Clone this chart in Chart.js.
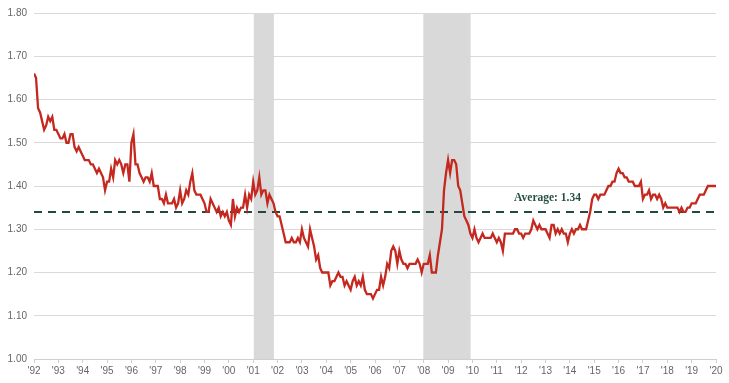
<!DOCTYPE html>
<html>
<head>
<meta charset="utf-8">
<script src="https://cdn.jsdelivr.net/npm/chart.js@4.4.1/dist/chart.umd.min.js"></script>
<style>
  html, body { margin: 0; padding: 0; background: #ffffff; }
  #wrap { width: 729px; height: 383px; position: relative; }
</style>
</head>
<body>
<div id="wrap"><canvas id="c" width="729" height="383"></canvas></div>
<script>
// Monthly values, Jan 1992 .. Jan 2020
const y1992 = [1.66,1.65,1.58,1.57,1.55,1.53,1.54,1.56,1.55,1.56,1.53,1.53];
const y1993 = [1.52,1.51,1.51,1.52,1.50,1.50,1.52,1.52,1.49,1.48,1.49,1.48];
const y1994 = [1.47,1.46,1.46,1.46,1.45,1.45,1.44,1.43,1.44,1.43,1.42,1.39];
const y1995 = [1.41,1.41,1.44,1.42,1.46,1.45,1.46,1.45,1.43,1.45,1.45,1.41];
const y1996 = [1.50,1.52,1.45,1.45,1.43,1.42,1.41,1.42,1.42,1.41,1.43,1.40];
const y1997 = [1.40,1.40,1.37,1.37,1.36,1.38,1.36,1.36,1.36,1.37,1.35,1.36];
const y1998 = [1.39,1.36,1.37,1.39,1.38,1.41,1.43,1.39,1.38,1.38,1.38,1.37];
const y1999 = [1.36,1.34,1.34,1.37,1.36,1.35,1.34,1.35,1.33,1.34,1.33,1.34];
const y2000 = [1.32,1.31,1.37,1.33,1.35,1.34,1.35,1.35,1.38,1.35,1.38,1.37];
const y2001 = [1.41,1.38,1.39,1.42,1.38,1.39,1.39,1.36,1.38,1.37,1.36,1.34];
const y2002 = [1.33,1.33,1.31,1.29,1.27,1.27,1.27,1.28,1.27,1.27,1.28,1.27];
const y2003 = [1.30,1.28,1.27,1.26,1.30,1.28,1.26,1.23,1.24,1.21,1.20,1.20];
const y2004 = [1.20,1.20,1.17,1.18,1.18,1.19,1.20,1.19,1.19,1.17,1.18,1.17];
const y2005 = [1.16,1.18,1.19,1.17,1.18,1.17,1.19,1.16,1.15,1.15,1.15,1.14];
const y2006 = [1.15,1.16,1.16,1.19,1.17,1.19,1.22,1.21,1.25,1.26,1.25,1.22];
const y2007 = [1.25,1.23,1.22,1.22,1.21,1.22,1.22,1.22,1.22,1.23,1.22,1.20];
const y2008 = [1.22,1.22,1.22,1.24,1.20,1.20,1.20,1.24,1.27,1.30,1.39,1.43];
const y2009 = [1.46,1.43,1.46,1.46,1.45,1.40,1.39,1.36,1.33,1.32,1.31,1.29];
const y2010 = [1.28,1.30,1.28,1.27,1.28,1.29,1.28,1.28,1.28,1.28,1.29,1.28];
const y2011 = [1.27,1.28,1.27,1.25,1.29,1.29,1.29,1.29,1.29,1.30,1.30,1.29];
const y2012 = [1.29,1.28,1.29,1.29,1.29,1.30,1.32,1.31,1.30,1.31,1.30,1.30];
const y2013 = [1.30,1.29,1.28,1.31,1.31,1.29,1.30,1.29,1.30,1.29,1.29,1.27];
const y2014 = [1.29,1.30,1.29,1.30,1.30,1.31,1.30,1.30,1.30,1.32,1.34,1.37];
const y2015 = [1.38,1.38,1.37,1.38,1.38,1.38,1.39,1.40,1.40,1.41,1.41,1.43];
const y2016 = [1.44,1.43,1.43,1.42,1.42,1.41,1.41,1.41,1.40,1.40,1.40,1.41];
const y2017 = [1.37,1.38,1.38,1.39,1.37,1.38,1.38,1.37,1.38,1.37,1.35,1.36];
const y2018 = [1.35,1.35,1.35,1.35,1.35,1.35,1.34,1.35,1.34,1.34,1.35,1.35];
const y2019 = [1.36,1.36,1.36,1.37,1.38,1.38,1.38,1.39,1.40,1.40,1.40,1.40];
const y2020 = [1.40];

const tickLabels = ["'92","'93","'94","'95","'96","'97","'98","'99","'00","'01","'02","'03","'04","'05","'06","'07","'08","'09","'10","'11","'12","'13","'14","'15","'16","'17","'18","'19","'20"];
const averageValue = 1.34;
const averageLabel = "Average: 1.34";
// recession periods as [start month index, end month index] (0 = Jan 1992)
const recessions = [[108.3, 118.2], [191.8, 215.1]];

const series = [].concat(y1992,y1993,y1994,y1995,y1996,y1997,y1998,y1999,y2000,y2001,y2002,y2003,y2004,y2005,y2006,y2007,y2008,y2009,y2010,y2011,y2012,y2013,y2014,y2015,y2016,y2017,y2018,y2019,y2020);
const lastIndex = series.length - 1;

const bandsPlugin = {
  id: 'bands',
  beforeDatasetsDraw(chart) {
    const {ctx, chartArea, scales} = chart;
    ctx.save();
    ctx.fillStyle = '#d9d9d9';
    recessions.forEach(([a, b]) => {
      const x1 = scales.x.getPixelForValue(a);
      const x2 = scales.x.getPixelForValue(b);
      ctx.fillRect(x1, chartArea.top, x2 - x1, chartArea.bottom - chartArea.top);
    });
    ctx.restore();
  },
  afterDatasetsDraw(chart) {
    const {ctx, scales} = chart;
    ctx.save();
    ctx.font = 'bold 11.5px "Liberation Serif", serif';
    ctx.fillStyle = '#25503f';
    ctx.textAlign = 'center';
    ctx.textBaseline = 'middle';
    ctx.fillText(averageLabel, scales.x.getPixelForValue(253), scales.y.getPixelForValue(averageValue) - 13.5);
    ctx.restore();
  }
};

new Chart(document.getElementById('c'), {
  type: 'line',
  data: {
    datasets: [
      {
        data: series.map((v, i) => ({x: i, y: v})),
        borderColor: '#c4281f',
        borderWidth: 2.3,
        pointRadius: 0,
        tension: 0,
        order: 1
      },
      {
        data: [{x: 0, y: averageValue}, {x: lastIndex, y: averageValue}],
        borderColor: '#22493f',
        borderWidth: 2,
        borderDash: [8, 6],
        pointRadius: 0,
        order: 2
      }
    ]
  },
  options: {
    responsive: false,
    animation: false,
    events: [],
    layout: { padding: { top: 11, right: 13, left: 0, bottom: 0 } },
    plugins: { legend: { display: false }, tooltip: { enabled: false } },
    scales: {
      x: {
        type: 'linear',
        min: 0,
        max: lastIndex,
        afterFit(s) { s.height = 24; },
        grid: { drawOnChartArea: false, drawTicks: true, tickLength: 4, color: '#cfcfcf' },
        border: { display: true, color: '#cfcfcf' },
        ticks: {
          stepSize: 12,
          autoSkip: false,
          maxRotation: 0,
          padding: 2,
          color: '#666666',
          font: { family: '"Liberation Sans", sans-serif', size: 10 },
          callback: (v) => tickLabels[Math.round(v / 12)]
        }
      },
      y: {
        min: 1.0,
        max: 1.8,
        afterFit(s) { s.width = 34; },
        grid: { color: '#d9d9d9', drawTicks: false, lineWidth: 1 },
        border: { display: false },
        ticks: {
          stepSize: 0.1,
          padding: 7,
          color: '#666666',
          font: { family: '"Liberation Sans", sans-serif', size: 10 },
          callback: (v) => Number(v).toFixed(2)
        }
      }
    }
  },
  plugins: [bandsPlugin]
});
</script>
</body>
</html>
